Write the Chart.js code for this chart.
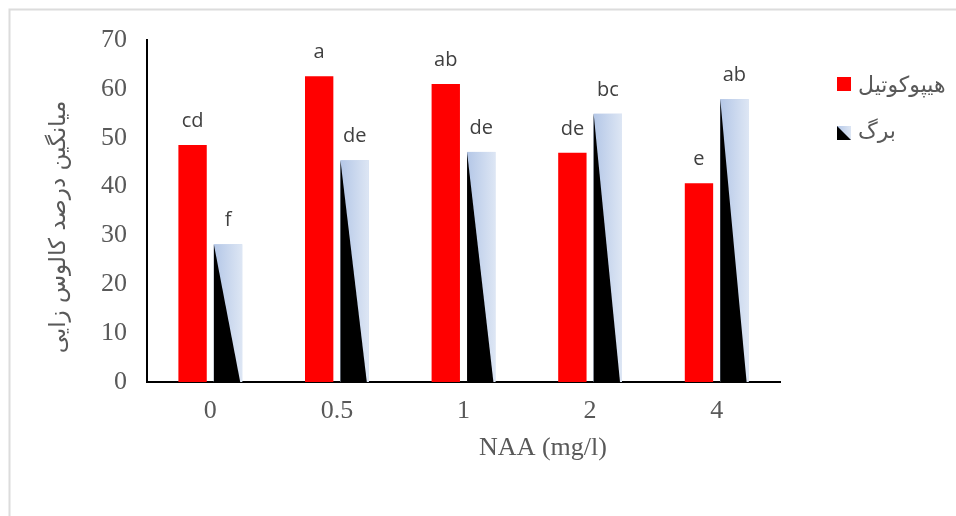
<!DOCTYPE html>
<html><head><meta charset="utf-8">
<script src="https://cdn.jsdelivr.net/npm/chart.js@4.4.1/dist/chart.umd.min.js"></script>
<style>html,body{margin:0;padding:0;background:#fff;overflow:hidden}#wrap{width:956px;height:516px;position:relative}</style>
</head><body><div id="wrap"><canvas id="c" width="956" height="516"></canvas></div>
<script>
const categories = ['0', '0.5', '1', '2', '4'];
const hypocotyl = [48.5, 62.6, 61.0, 46.9, 40.7];
const leaf = [28.2, 45.4, 47.1, 54.9, 57.9];
const hypocotylLetters = ['cd', 'a', 'ab', 'de', 'e'];
const leafLetters = ['f', 'de', 'de', 'bc', 'ab'];
const seriesNames = ['هیپوکوتیل', 'برگ'];
const yMin = 0, yMax = 70, yStep = 10;
const xTitle = 'NAA (mg/l)';
const yTitle = 'میانگین درصد کالوس زایی';

const SERIF = '"Liberation Serif", "Times New Roman", serif';
const SANS = '"Open Sans", "Liberation Sans", sans-serif';
const FA = '"DejaVu Sans", "Noto Sans", sans-serif';
const GRAY = '#595959';

function leafGradient(ctx, x0, x1) {
  const g = ctx.createLinearGradient(x0, 0, x1, 0);
  g.addColorStop(0, '#b4c7e7');
  g.addColorStop(1, '#dde6f4');
  return g;
}

const decor = {
  id: 'decor',
  beforeDraw(chart) {
    const c = chart.ctx;
    c.save();
    c.fillStyle = '#fff';
    c.fillRect(0, 0, chart.width, chart.height);
    c.strokeStyle = '#dcdcdc';
    c.lineWidth = 2;
    c.beginPath();
    c.moveTo(9.5, chart.height + 5);
    c.lineTo(9.5, 9.5);
    c.lineTo(chart.width + 5, 9.5);
    c.stroke();
    c.restore();
  },
  afterDatasetsDraw(chart) {
    const c = chart.ctx;
    const meta1 = chart.getDatasetMeta(1);
    c.save();
    meta1.data.forEach(el => {
      const p = el.getProps(['x', 'y', 'base', 'width'], true);
      const l = p.x - p.width / 2, r = p.x + p.width / 2;
      c.fillStyle = leafGradient(c, l, r);
      c.fillRect(l, p.y, r - l, p.base - p.y);
      c.fillStyle = '#000';
      c.beginPath();
      c.moveTo(l, p.y);
      c.lineTo(r - 2, p.base);
      c.lineTo(l, p.base);
      c.closePath();
      c.fill();
    });
    c.font = '20px ' + SANS;
    c.fillStyle = '#404040';
    c.textAlign = 'center';
    c.textBaseline = 'alphabetic';
    [[0, hypocotylLetters], [1, leafLetters]].forEach(([di, letters]) => {
      chart.getDatasetMeta(di).data.forEach((el, i) => {
        const p = el.getProps(['x', 'y'], true);
        c.fillText(letters[i], p.x, p.y - 18);
      });
    });
    c.restore();
  },
  afterDraw(chart) {
    const c = chart.ctx;
    c.save();
    c.font = '26px ' + SERIF;
    c.fillStyle = GRAY;
    c.textAlign = 'center';
    c.textBaseline = 'middle';
    c.fillText(xTitle, 543, 448);
    c.save();
    c.translate(59, 227);
    c.rotate(-Math.PI / 2);
    c.font = '23px ' + FA;
    c.fillStyle = GRAY;
    c.textAlign = 'center';
    c.textBaseline = 'middle';
    c.fillText(yTitle, 0, 0);
    c.restore();
    c.fillStyle = '#ff0000';
    c.fillRect(837, 77, 14, 14);
    const lx = 837, ly = 126, s = 14;
    c.fillStyle = leafGradient(c, lx, lx + s);
    c.fillRect(lx, ly, s, s);
    c.fillStyle = '#000';
    c.beginPath();
    c.moveTo(lx, ly);
    c.lineTo(lx + s, ly + s);
    c.lineTo(lx, ly + s);
    c.closePath();
    c.fill();
    c.font = '22px ' + FA;
    c.fillStyle = GRAY;
    c.textAlign = 'left';
    c.textBaseline = 'middle';
    c.fillText(seriesNames[0], 858, 86);
    c.fillText(seriesNames[1], 858, 132);
    c.restore();
  }
};

new Chart(document.getElementById('c'), {
  type: 'bar',
  data: {
    labels: categories,
    datasets: [
      { label: seriesNames[0], data: hypocotyl, backgroundColor: '#ff0000', borderWidth: 0 },
      { label: seriesNames[1], data: leaf, backgroundColor: '#c5d4ec', borderWidth: 0 }
    ]
  },
  options: {
    responsive: false,
    animation: false,
    devicePixelRatio: 1,
    categoryPercentage: 0.56,
    barPercentage: 0.8,
    layout: { padding: { left: 0, top: 40, right: 176, bottom: 49 } },
    plugins: { legend: { display: false }, tooltip: { enabled: false } },
    scales: {
      x: {
        grid: { display: false, drawTicks: false },
        border: { display: true, color: '#000', width: 2 },
        ticks: { font: { family: SERIF, size: 26 }, color: GRAY, padding: 14 },
        afterFit(s) { s.height = 85; }
      },
      y: {
        min: yMin, max: yMax,
        grid: { display: false, drawTicks: false },
        border: { display: true, color: '#000', width: 2 },
        ticks: { stepSize: yStep, font: { family: SERIF, size: 26 }, color: GRAY, padding: 20 },
        afterFit(s) { s.width = 147; }
      }
    }
  },
  plugins: [decor]
});
</script>
</body></html>
